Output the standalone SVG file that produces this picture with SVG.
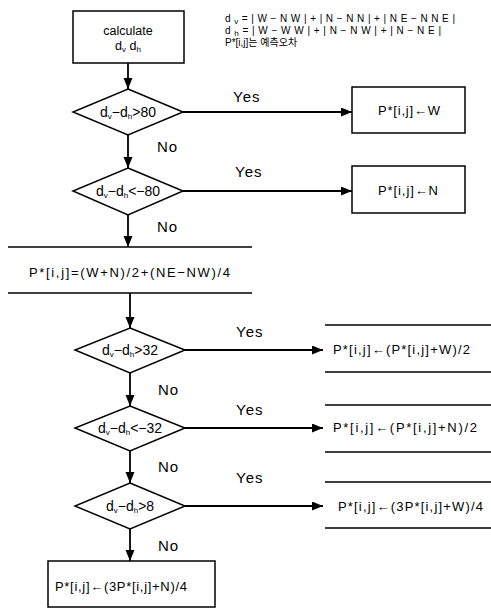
<svg xmlns="http://www.w3.org/2000/svg" width="491" height="608" viewBox="0 0 491 608">
<style>
text{font-family:"Liberation Sans",Arial,"Noto Sans CJK KR",sans-serif;fill:#000}
.box{fill:#fff;stroke:#000;stroke-width:1.5}
.ln{fill:none;stroke:#000;stroke-width:1.6}
.dia{fill:#fff;stroke:#000;stroke-width:1.5}
.conn{fill:none;stroke:#000;stroke-width:1.8;marker-end:url(#ah)}
.lbl{font-size:15px;letter-spacing:1px}
.bt{font-size:13px}
.dt{font-size:14px}
.ct{font-size:12.5px}
.sub{font-size:8px}
.note{font-size:10px}
</style>
<defs>
<marker id="ah" markerUnits="userSpaceOnUse" markerWidth="12" markerHeight="10" refX="11" refY="4.5" orient="auto">
<path d="M0,0 L11,4.5 L0,9 z" fill="#000"/>
</marker>
</defs>
<rect width="491" height="608" fill="#fff"/>

<g id="connectors">
<line class="conn" x1="128" y1="63" x2="128" y2="89"/>
<line class="conn" x1="128" y1="135" x2="128" y2="168"/>
<line class="conn" x1="128" y1="215" x2="128" y2="247"/>
<line class="conn" x1="130" y1="293" x2="130" y2="328"/>
<line class="conn" x1="130" y1="373" x2="130" y2="406"/>
<line class="conn" x1="130" y1="451" x2="130" y2="483"/>
<line class="conn" x1="130" y1="529" x2="130" y2="561"/>
<line class="conn" x1="183" y1="112" x2="352" y2="112"/>
<line class="conn" x1="183" y1="191" x2="352" y2="191"/>
<line class="conn" x1="185" y1="350" x2="323" y2="350"/>
<line class="conn" x1="185" y1="428" x2="323" y2="428"/>
<line class="conn" x1="185" y1="506" x2="323" y2="506"/>
<text class="lbl" x="233" y="102">Yes</text>
<text class="lbl" x="235" y="177">Yes</text>
<text class="lbl" x="236" y="337">Yes</text>
<text class="lbl" x="236" y="415">Yes</text>
<text class="lbl" x="236" y="483">Yes</text>
<text class="lbl" x="157" y="152">No</text>
<text class="lbl" x="157" y="232">No</text>
<text class="lbl" x="158" y="395">No</text>
<text class="lbl" x="158" y="472">No</text>
<text class="lbl" x="158" y="551">No</text>
</g>

<g id="note">
<text class="note" x="225" y="22" textLength="230" lengthAdjust="spacing">d<tspan class="sub" dy="2">v</tspan><tspan dy="-2">=|W−NW|+|N−NN|+|NE−NNE|</tspan></text>
<text class="note" x="225" y="34" textLength="216" lengthAdjust="spacing">d<tspan class="sub" dy="2">h</tspan><tspan dy="-2">=|W−WW|+|N−NW|+|N−NE|</tspan></text>
<text class="note" x="225" y="46">P*[i,j]는 예측오차</text>
</g>

<g id="calc">
<rect class="box" x="73" y="11" width="111" height="52"/>
<text class="ct" x="128" y="35" text-anchor="middle">calculate</text>
<text class="ct" x="128" y="50" text-anchor="middle">d<tspan class="sub" dy="2">v</tspan><tspan dy="-2"> d</tspan><tspan class="sub" dy="2">h</tspan></text>
</g>

<g id="d1">
<polygon class="dia" points="128,89 183,112 128,135 73,112"/>
<text class="dt" x="128" y="117" text-anchor="middle">d<tspan class="sub" dy="2">v</tspan><tspan dy="-2">−d</tspan><tspan class="sub" dy="2">h</tspan><tspan dy="-2">&gt;80</tspan></text>
</g>
<g id="b1">
<rect class="box" x="352" y="87" width="113" height="46"/>
<text class="bt" x="378" y="115" textLength="62" lengthAdjust="spacing">P*[i,j]←W</text>
</g>

<g id="d2">
<polygon class="dia" points="128,168 183,191 128,215 73,191"/>
<text class="dt" x="128" y="196" text-anchor="middle">d<tspan class="sub" dy="2">v</tspan><tspan dy="-2">−d</tspan><tspan class="sub" dy="2">h</tspan><tspan dy="-2">&lt;−80</tspan></text>
</g>
<g id="b2">
<rect class="box" x="352" y="166" width="113" height="47"/>
<text class="bt" x="378" y="195" textLength="60" lengthAdjust="spacing">P*[i,j]←N</text>
</g>

<g id="b3">
<path class="ln" d="M8,247 H252 M8,293 H252"/>
<text class="bt" x="29" y="277" textLength="201" lengthAdjust="spacing">P*[i,j]=(W+N)/2+(NE−NW)/4</text>
</g>

<g id="d4">
<polygon class="dia" points="130,328 185,350 130,373 75,350"/>
<text class="dt" x="130" y="355" text-anchor="middle">d<tspan class="sub" dy="2">v</tspan><tspan dy="-2">−d</tspan><tspan class="sub" dy="2">h</tspan><tspan dy="-2">&gt;32</tspan></text>
</g>
<g id="b4">
<path class="ln" d="M325,325 H491 M325,372 H491"/>
<text class="bt" x="333" y="354" textLength="137" lengthAdjust="spacing">P*[i,j]←(P*[i,j]+W)/2</text>
</g>

<g id="d5">
<polygon class="dia" points="130,406 185,428 130,451 75,428"/>
<text class="dt" x="130" y="433" text-anchor="middle">d<tspan class="sub" dy="2">v</tspan><tspan dy="-2">−d</tspan><tspan class="sub" dy="2">h</tspan><tspan dy="-2">&lt;−32</tspan></text>
</g>
<g id="b5">
<path class="ln" d="M325,405 H491 M325,452 H491"/>
<text class="bt" x="333" y="432" textLength="144" lengthAdjust="spacing">P*[i,j]←(P*[i,j]+N)/2</text>
</g>

<g id="d6">
<polygon class="dia" points="130,483 185,506 130,529 75,506"/>
<text class="dt" x="130" y="511" text-anchor="middle">d<tspan class="sub" dy="2">v</tspan><tspan dy="-2">−d</tspan><tspan class="sub" dy="2">h</tspan><tspan dy="-2">&gt;8</tspan></text>
</g>
<g id="b6">
<path class="ln" d="M325,482 H491 M325,528 H491"/>
<text class="bt" x="338" y="511" textLength="145" lengthAdjust="spacing">P*[i,j]←(3P*[i,j]+W)/4</text>
</g>

<g id="b7">
<rect class="box" x="48" y="561" width="167" height="46"/>
<text class="bt" x="55" y="591" textLength="132" lengthAdjust="spacing">P*[i,j]←(3P*[i,j]+N)/4</text>
</g>
</svg>
